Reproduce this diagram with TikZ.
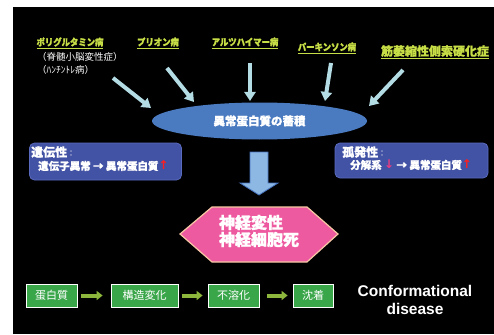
\documentclass[tikz,border=0pt]{standalone}
\usepackage{fontspec}
\setmainfont{Liberation Sans}
\newfontfamily\jp[BoldFeatures={FakeBold=1.2}]{Noto Sans CJK JP}
\newfontfamily\jplbl[FakeStretch=0.88,BoldFeatures={FakeBold=1.5}]{Noto Sans CJK JP}
\newfontfamily\sym{DejaVu Sans}
\usetikzlibrary{shapes.geometric,arrows.meta}
\definecolor{lime}{RGB}{200,222,70}
\definecolor{skyarrow}{RGB}{180,220,228}
\definecolor{ellblue}{RGB}{74,122,192}
\definecolor{boxblue}{RGB}{66,82,164}
\definecolor{boxedge}{RGB}{90,106,190}
\definecolor{bigarrow}{RGB}{141,184,228}
\definecolor{bigedge}{RGB}{70,115,190}
\definecolor{hexpink}{RGB}{238,90,160}
\definecolor{hexedge}{RGB}{248,200,165}
\definecolor{gbox}{RGB}{58,166,74}
\definecolor{garrowc}{RGB}{140,182,60}
\definecolor{upred}{RGB}{255,30,30}
\definecolor{downpink}{RGB}{230,60,130}
\newcommand{\uparr}{\textcolor{upred}{\sym\bfseries\fontsize{12}{12}\selectfont ↑}}
\newcommand{\downarr}{\textcolor{downpink}{\sym\fontsize{12}{12}\selectfont ↓}}
\begin{document}
\begin{tikzpicture}[x=1pt,y=-1pt,
 lbl/.style={text=lime, font=\jplbl\bfseries\fontsize{9.5}{11}\selectfont, inner sep=0pt},
 sub/.style={text=white, font=\jp\fontsize{9.5}{11}\selectfont, inner sep=0pt, anchor=west},
 skyarr/.style={draw=skyarrow, line width=4pt, -{Triangle[width=11pt,length=9pt]}},
 sidebox/.style={draw=boxedge, fill=boxblue, rounded corners=5pt, line width=0.8pt, inner sep=0pt},
 sidetxt/.style={text=white, font=\jp\bfseries\fontsize{10.5}{12}\selectfont, inner sep=0pt, anchor=west},
 sidehead/.style={text=white, font=\jp\bfseries\fontsize{12}{14}\selectfont, inner sep=0pt, anchor=west},
 gbx/.style={draw=white, fill=gbox, line width=0.8pt, minimum height=23pt, inner sep=0pt, text=white, font=\jp\fontsize{11}{12}\selectfont},
 garr/.style={draw=garrowc, line width=4pt, -{Triangle[width=9pt,length=6pt]}}]
\useasboundingbox (0,0) rectangle (494,334);
\fill[white] (0,0) rectangle (494,334);
\fill[black] (13,7) rectangle (494,334);
% top labels
\node[lbl] (pg) at (70,43) {\underline{ポリグルタミン病}};
\node[sub] (pg2) at (37,57) {（脊髄小脳変性症）};
\node[sub] (pg3) at (37,70) {（ﾊﾝﾁﾝﾄﾚ病）};
\node[lbl] (pr) at (158,43) {\underline{プリオン病}};
\node[lbl] (az) at (245,43) {\underline{アルツハイマー病}};
\node[lbl] (pk) at (327,48) {\underline{パーキンソン病}};
\node[lbl, font=\jp\bfseries\fontsize{12}{14}\selectfont] (als) at (435,52) {\underline{筋萎縮性側索硬化症}};
% arrows
\coordinate (a1s) at (113,78); \coordinate (a1e) at (151,108);
\coordinate (a2s) at (167,68); \coordinate (a2e) at (194,102);
\coordinate (a3s) at (250,63); \coordinate (a3e) at (250,101);
\coordinate (a4s) at (331,63); \coordinate (a4e) at (325,101);
\coordinate (a5s) at (403,70); \coordinate (a5e) at (369,106);
\draw[skyarr] (a1s) -- (a1e);
\draw[skyarr] (a2s) -- (a2e);
\draw[skyarr] (a3s) -- (a3e);
\draw[skyarr] (a4s) -- (a4e);
\draw[skyarr] (a5s) -- (a5e);
% ellipse
\node[ellipse, fill=ellblue, minimum width=215pt, minimum height=37pt, inner sep=0pt, text=white, font=\jp\bfseries\fontsize{11.5}{13}\selectfont] (ell) at (259.5,121) {異常蛋白質の蓄積};
% side boxes
\node[sidebox, minimum width=152pt, minimum height=37pt] (lbox) at (105.5,161.5) {};
\node[sidehead] (lt1) at (31,152) {遺伝性{\mdseries\fontsize{8}{10}\selectfont ：}};
\node[sidetxt] (lt2) at (38,166) {遺伝子異常 → 異常蛋白質\uparr};
\node[sidebox, minimum width=153pt, minimum height=35pt] (rbox) at (411.5,160.5) {};
\node[sidehead] (rt1) at (342,152) {孤発性{\mdseries\fontsize{8}{10}\selectfont ：}};
\node[sidetxt] (rt2) at (350,165) {分解系 \downarr{} → 異常蛋白質\uparr};
% big arrow
\draw[fill=bigarrow, draw=bigedge, line width=0.8pt] (250,152) -- (268,152) -- (268,183) -- (278,183) -- (259,195) -- (240,183) -- (250,183) -- cycle;
% hexagon
\draw[fill=hexpink, draw=hexedge, line width=1.2pt] (180,234) -- (212,207) -- (307,207) -- (338,234) -- (307,262) -- (212,262) -- cycle;
\node[text=white, font=\jp\bfseries\fontsize{16}{17}\selectfont, align=left, inner sep=0pt] (hex) at (259,231) {神経変性\\神経細胞死};
% bottom flow
\node[gbx, minimum width=51pt] (g1) at (51.5,295.5) {蛋白質};
\node[gbx, minimum width=67pt] (g2) at (144.5,295.5) {構造変化};
\node[gbx, minimum width=51pt] (g3) at (233.5,295.5) {不溶化};
\node[gbx, minimum width=40pt] (g4) at (313,295.5) {沈着};
\draw[garr, shorten <=4pt, shorten >=8pt] (g1) -- (g2);
\draw[garr, shorten <=4pt, shorten >=5pt] (g2) -- (g3);
\draw[garr, shorten <=8pt, shorten >=5pt] (g3) -- (g4);
\node[text=white, font=\bfseries\fontsize{15.5}{18}\selectfont, align=center, inner sep=0pt] (cd) at (415,300) {Conformational\\disease};
\end{tikzpicture}
\end{document}
